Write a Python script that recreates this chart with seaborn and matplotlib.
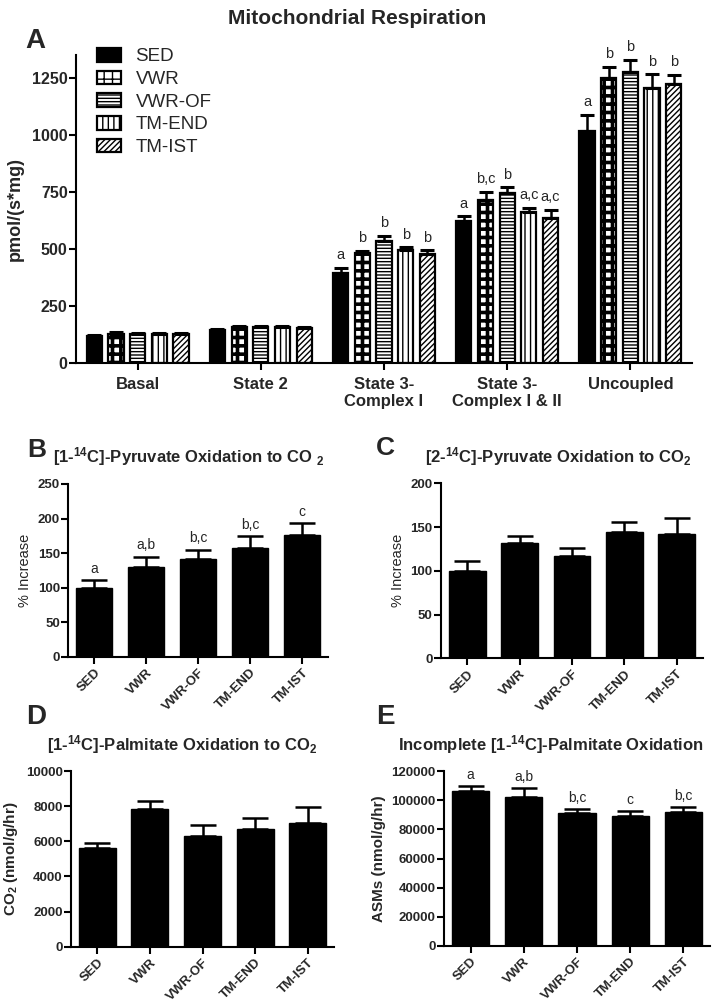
import numpy as np
import pandas as pd
import matplotlib
matplotlib.use("Agg")
import matplotlib.pyplot as plt
import seaborn as sns

# ---------------- data ----------------
groups = ["SED", "VWR", "VWR-OF", "TM-END", "TM-IST"]
states = ["Basal", "State 2", "State 3-\nComplex I", "State 3-\nComplex I & II", "Uncoupled"]

# Panel A: mitochondrial respiration, pmol/(s*mg)
resp_sed = [118, 142, 395, 620, 1015]
resp_vwr = [128, 156, 483, 716, 1248]
resp_vwrof = [126, 157, 533, 743, 1275]
resp_tmend = [127, 157, 495, 660, 1207]
resp_tmist = [125, 152, 475, 636, 1222]
err_sed = [4, 5, 22, 22, 72]
err_vwr = [5, 5, 8, 33, 51]
err_vwrof = [5, 5, 25, 26, 54]
err_tmend = [4, 4, 12, 19, 58]
err_tmist = [4, 4, 18, 36, 41]
let_sed = ["", "", "a", "a", "a"]
let_vwr = ["", "", "b", "b,c", "b"]
let_vwrof = ["", "", "b", "b", "b"]
let_tmend = ["", "", "b", "a,c", "b"]
let_tmist = ["", "", "b", "a,c", "b"]

# Panel B: [1-14C]-pyruvate oxidation to CO2 (% increase)
pyr1_vals = [100, 130, 141, 157, 176]
pyr1_err = [11, 15, 14, 18, 17]
pyr1_letters = ["a", "a,b", "b,c", "b,c", "c"]

# Panel C: [2-14C]-pyruvate oxidation to CO2 (% increase)
pyr2_vals = [100, 132, 117, 144, 142]
pyr2_err = [11, 8, 9, 12, 18]

# Panel D: [1-14C]-palmitate oxidation to CO2 (nmol/g/hr)
palm_vals = [5600, 7830, 6290, 6680, 7020]
palm_err = [290, 470, 650, 620, 920]

# Panel E: incomplete palmitate oxidation, ASMs (nmol/g/hr)
asm_vals = [106500, 102000, 91400, 89100, 92100]
asm_err = [3200, 6100, 2700, 3500, 3000]
asm_letters = ["a", "a,b", "b,c", "c", "b,c"]

# ---------------- style ----------------
sns.set_style("ticks")
plt.rcParams["font.family"] = ["Liberation Sans", "DejaVu Sans"]
plt.rcParams["mathtext.fontset"] = "custom"
plt.rcParams["mathtext.rm"] = "Liberation Sans:bold"
plt.rcParams["mathtext.bf"] = "Liberation Sans:bold"
plt.rcParams["mathtext.it"] = "Liberation Sans:bold"
plt.rcParams["hatch.linewidth"] = 1.0
plt.rcParams["hatch.color"] = "black"

W, H = 713, 1007
fig = plt.figure(figsize=(W / 100, H / 100), dpi=100)


def px_axes(left, top, right, bottom):
    return fig.add_axes([left / W, 1 - bottom / H, (right - left) / W, (bottom - top) / H])


def style_axis(ax, ytick_size):
    sns.despine(ax=ax)
    for s in ["left", "bottom"]:
        ax.spines[s].set_linewidth(1.5)
        ax.spines[s].set_color("black")
    ax.tick_params(axis="both", width=1.5, length=5, color="black", direction="out")
    ax.tick_params(axis="y", labelsize=ytick_size, pad=1)
    for lab in ax.get_yticklabels():
        lab.set_fontweight("bold")
    ax.set_xlabel("")


# ---------------- Panel A ----------------
axA = px_axes(76, 55, 692, 362.7)
dfA = pd.DataFrame({
    "state": np.tile(states, len(groups)),
    "group": np.repeat(groups, len(states)),
    "value": np.concatenate([resp_sed, resp_vwr, resp_vwrof, resp_tmend, resp_tmist]),
})
errsA = [err_sed, err_vwr, err_vwrof, err_tmend, err_tmist]
letsA = [let_sed, let_vwr, let_vwrof, let_tmend, let_tmist]
sns.barplot(data=dfA, x="state", y="value", hue="group", order=states, hue_order=groups,
            palette=["black", "white", "white", "white", "white"], saturation=1,
            edgecolor="black", linewidth=1.6, errorbar=None, width=0.88, gap=0.3,
            legend=False, ax=axA)
hatches = ["", "++", "-----", "|||", "//////"]
hatch_lw = [1.0, 2.6, 1.0, 1.0, 1.0]
for cont, h, hlw, errs, lets in zip(axA.containers, hatches, hatch_lw, errsA, letsA):
    xs, tops = [], []
    for bar in cont:
        bar.set_hatch(h)
        if hasattr(bar, "set_hatch_linewidth"):
            bar.set_hatch_linewidth(hlw)
        xs.append(bar.get_x() + bar.get_width() / 2)
        tops.append(bar.get_height())
    axA.errorbar(xs, tops, yerr=[np.zeros(len(errs)), errs], fmt="none", ecolor="black",
                 elinewidth=1.8, capsize=5, capthick=2.2, zorder=1)
    for x, t, e, l in zip(xs, tops, errs, lets):
        if l:
            axA.annotate(l, (x, t + e), xytext=(0, 4), textcoords="offset points",
                         ha="center", va="bottom", fontsize=10.5)
axA.set_ylim(0, 1350)
axA.set_xlim(-0.5, 4.5)
axA.set_yticks([0, 250, 500, 750, 1000, 1250])
style_axis(axA, 11.5)
axA.tick_params(axis="x", labelsize=12, pad=5)
for lab in axA.get_xticklabels():
    lab.set_fontweight("bold")
axA.set_ylabel("pmol/(s*mg)", fontsize=13, fontweight="bold", labelpad=6)
handles = [cont[0] for cont in axA.containers]
axA.legend(handles, groups, loc="upper left", bbox_to_anchor=(97 / W, 1 - 48 / H),
           bbox_transform=fig.transFigure, frameon=False, fontsize=13.5,
           handlelength=1.3, handleheight=0.75, handletextpad=0.75,
           labelspacing=0.28, borderpad=0, borderaxespad=0)

fig.text(35 / W, 1 - 41 / H, "A", fontsize=20, fontweight="bold", ha="center", va="center")
fig.text(357 / W, 1 - 19 / H, "Mitochondrial Respiration", fontsize=15, fontweight="bold",
         ha="center", va="center")


# ---------------- small panels ----------------
def small_panel(rect, vals, errs, ymax, yticks, ylabel, ylabel_bold, letters=None):
    ax = px_axes(*rect)
    sns.barplot(x=groups, y=vals, color="black", saturation=1, edgecolor="black",
                linewidth=1.0, width=0.7, errorbar=None, ax=ax)
    cont = ax.containers[0]
    xs = [b.get_x() + b.get_width() / 2 for b in cont]
    tops = [b.get_height() for b in cont]
    ax.errorbar(xs, tops, yerr=[np.zeros(len(errs)), errs], fmt="none", ecolor="black",
                elinewidth=1.8, capsize=9.5, capthick=1.8, zorder=1)
    if letters:
        for x, t, e, l in zip(xs, tops, errs, letters):
            ax.annotate(l, (x, t + e), xytext=(0, 3), textcoords="offset points",
                        ha="center", va="bottom", fontsize=10)
    ax.set_ylim(0, ymax)
    ax.set_xlim(-0.5, 4.5)
    ax.set_yticks(yticks)
    style_axis(ax, 9.5)
    ax.tick_params(axis="x", labelsize=9.5, pad=2)
    for lab in ax.get_xticklabels():
        lab.set_rotation(45)
        lab.set_ha("right")
        lab.set_rotation_mode("anchor")
        lab.set_fontweight("bold")
    ax.set_ylabel(ylabel, fontsize=11 if ylabel_bold else 10.5,
                  fontweight="bold" if ylabel_bold else "normal", labelpad=4)
    return ax


small_panel((68.3, 484, 328, 656.7), pyr1_vals, pyr1_err, 250, [0, 50, 100, 150, 200, 250],
            "% Increase", False, pyr1_letters)
small_panel((441, 483.3, 703, 658.3), pyr2_vals, pyr2_err, 200, [0, 50, 100, 150, 200],
            "% Increase", False)
small_panel((71, 771, 334, 946.7), palm_vals, palm_err, 10000,
            [0, 2000, 4000, 6000, 8000, 10000], "CO$_2$ (nmol/g/hr)", True)
small_panel((444, 771, 710, 946), asm_vals, asm_err, 120000,
            [0, 20000, 40000, 60000, 80000, 100000, 120000], "ASMs (nmol/g/hr)", True,
            asm_letters)

# panel letters and titles
fig.text(37 / W, 1 - 450 / H, "B", fontsize=19, fontweight="bold", ha="center", va="center")
fig.text(53 / W, 1 - 457 / H, "[1-$^{14}$C]-Pyruvate Oxidation to CO $_2$", fontsize=12,
         fontweight="bold", ha="left", va="center")
fig.text(385 / W, 1 - 448 / H, "C", fontsize=19, fontweight="bold", ha="center", va="center")
fig.text(425 / W, 1 - 457 / H, "[2-$^{14}$C]-Pyruvate Oxidation to CO$_2$", fontsize=12,
         fontweight="bold", ha="left", va="center")
fig.text(36 / W, 1 - 717 / H, "D", fontsize=20, fontweight="bold", ha="center", va="center")
fig.text(182 / W, 1 - 745 / H, "[1-$^{14}$C]-Palmitate Oxidation to CO$_2$", fontsize=12,
         fontweight="bold", ha="center", va="center")
fig.text(385 / W, 1 - 717 / H, "E", fontsize=20, fontweight="bold", ha="center", va="center")
fig.text(551 / W, 1 - 745 / H, "Incomplete [1-$^{14}$C]-Palmitate Oxidation", fontsize=12,
         fontweight="bold", ha="center", va="center")

fig.savefig("out.png", dpi=100)
